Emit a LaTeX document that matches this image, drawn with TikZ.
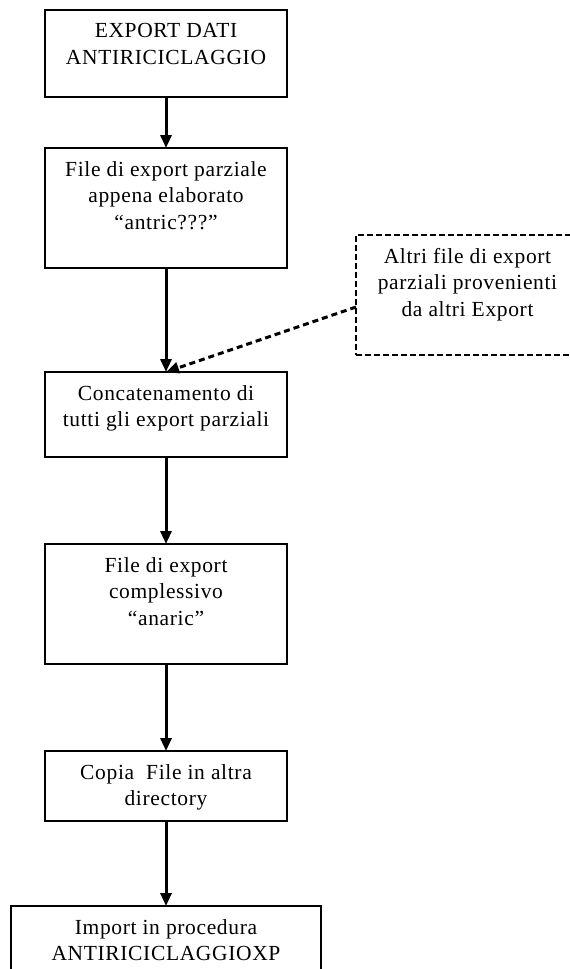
\documentclass[tikz,border=0pt]{standalone}
\usepackage{fontspec}
\setmainfont{Liberation Serif}[LetterSpace=3]
\usetikzlibrary{arrows.meta}

% text block of a flow box: fixed size, lines centred and hung from the top
\newcommand{\boxbody}[3]{%
  \parbox[c][#2][t]{#1}{\centering\fontsize{21.5pt}{26.8pt}\selectfont
    \rule{0pt}{28pt}#3}}

\tikzset{
  flowbox/.style={draw, line width=1.8pt, inner sep=0pt, outer sep=0pt,
                  anchor=north west},
  dashbox/.style={flowbox, line width=2.3pt, dash pattern=on 6pt off 3pt},
  flow/.style={line width=3pt, -{Triangle[width=11pt,length=13pt]}},
  dashflow/.style={flow, dash pattern=on 6pt off 4pt},
}

\begin{document}
\begin{tikzpicture}[x=1pt, y=-1pt]
  \clip (0,0) rectangle (570,969);
  \fill[white] (0,0) rectangle (570,969);

  \node[flowbox] (b1) at (45,10)
    {\boxbody{242pt}{87pt}{EXPORT DATI\\ANTIRICICLAGGIO}};
  \node[flowbox] (b2) at (45,148)
    {\boxbody{242pt}{120pt}{File di export parziale\\appena elaborato\\“antric???”}};
  \node[dashbox] (d) at (356,235)
    {\boxbody{223pt}{120pt}{Altri file di export\\parziali provenienti\\da altri Export}};
  \node[flowbox] (b3) at (45,372)
    {\boxbody{242pt}{85pt}{Concatenamento di\\tutti gli export parziali}};
  \node[flowbox] (b4) at (45,544)
    {\boxbody{242pt}{120pt}{File di export\\complessivo\\“anaric”}};
  \node[flowbox] (b5) at (45,751)
    {\boxbody{242pt}{70pt}{Copia~ File in altra\\directory}};
  \node[flowbox] (b6) at (11,906)
    {\boxbody{310pt}{90pt}{Import in procedura\\ANTIRICICLAGGIOXP}};

  \draw[flow] (b1.south) -- (b2.north);
  \draw[flow] (b2.south) -- (b3.north);
  \draw[dashflow] ([yshift=-12pt]d.west) -- (b3.north);
  \draw[flow] (b3.south) -- (b4.north);
  \draw[flow] (b4.south) -- (b5.north);
  \draw[flow] (b5.south) -- (b6.north);
\end{tikzpicture}
\end{document}
